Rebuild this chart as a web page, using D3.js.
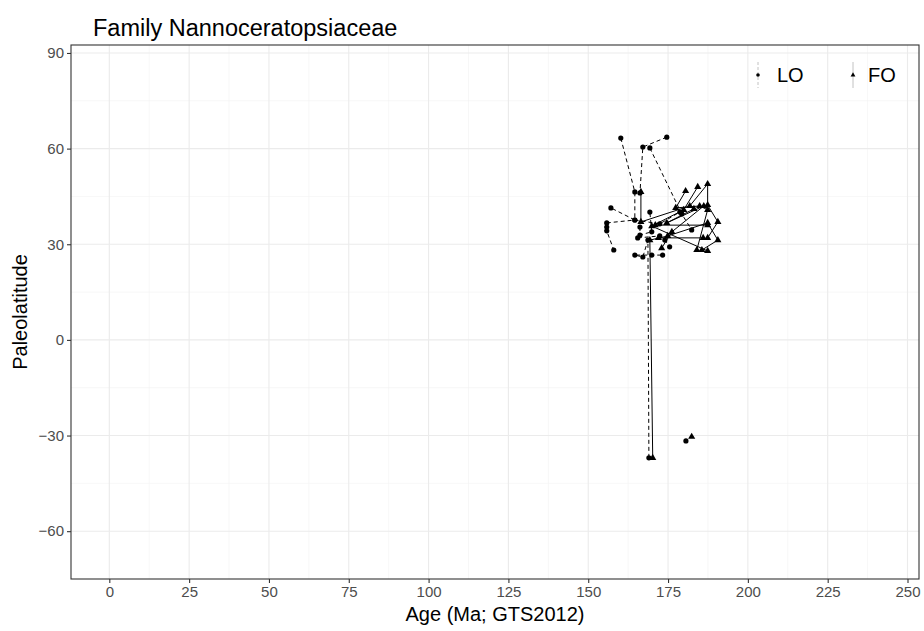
<!DOCTYPE html>
<html>
<head>
<meta charset="utf-8">
<script src="https://cdn.jsdelivr.net/npm/d3@7"></script>
<style>
  body { margin: 0; background: #fff; }
  svg { font-family: "Liberation Sans", Arial, sans-serif; }
</style>
</head>
<body>
<div id="chart"></div>
<script>
// Family Nannoceratopsiaceae - LO / FO paleolatitude vs age

// LO (last occurrence) points, dashed paths per group
const loAge   = [160.2, 164.6, 164.6, 157.1,
                 174.6, 167.1, 166.2,
                 169.3, 179.3, 182.4,
                 155.8, 164.6, 172.4, 178.7,
                 155.8, 155.8, 158.0,
                 169.0, 168.7, 167.1, 164.6, 169.9, 173.3,
                 180.6,
                 166.2, 166.2, 169.9, 169.3,
                 165.5, 172.4, 174.0, 175.5];
const loLat   = [63.3, 46.4, 37.6, 41.4,
                 63.6, 60.5, 46.1,
                 60.2, 39.5, 34.5,
                 36.7, 37.6, 36.4, 40.1,
                 35.4, 34.2, 28.2,
                 -37.0, 31.3, 26.0, 26.6, 26.6, 26.6,
                 -31.7,
                 35.4, 32.9, 33.9, 40.1,
                 32.0, 32.6, 31.3, 29.2];
const loGroup = [1, 1, 1, 1,
                 2, 2, 2,
                 3, 3, 3,
                 4, 4, 4, 4,
                 5, 5, 5,
                 6, 6, 6, 6, 6, 6,
                 7,
                 8, 8, 8, 8,
                 9, 9, 9, 9];

// FO (first occurrence) points, solid paths per group
const foAge   = [166.5, 166.5, 181.8, 187.4, 187.4, 190.6, 187.4,
                 170.2, 169.3, 174.9, 187.4, 190.6, 185.6,
                 180.5, 177.4, 184.9, 187.4, 184.0,
                 184.3, 179.9, 169.9, 187.4,
                 182.4,
                 173.0, 176.2, 186.2, 174.6, 183.1,
                 171.0, 187.4, 172.0, 186.0];
const foLat   = [46.4, 37.0, 42.0, 48.9, 42.3, 37.0, 32.0,
                 -37.0, 31.3, 32.6, 36.7, 31.3, 28.2,
                 46.7, 41.4, 42.0, 40.8, 28.2,
                 48.0, 40.8, 35.7, 27.9,
                 -30.4,
                 28.8, 33.9, 42.0, 36.7, 41.1,
                 36.0, 36.0, 32.0, 32.0];
const foGroup = [1, 1, 1, 1, 1, 1, 1,
                 2, 2, 2, 2, 2, 2,
                 3, 3, 3, 3, 3,
                 4, 4, 4, 4,
                 5,
                 6, 6, 6, 6, 6,
                 7, 7, 8, 8];

const xTicks = [0, 25, 50, 75, 100, 125, 150, 175, 200, 225, 250];
const yTicks = [-60, -30, 0, 30, 60, 90];
const xMinor = [12.5, 37.5, 62.5, 87.5, 112.5, 137.5, 162.5, 187.5, 212.5, 237.5];
const yMinor = [-45, -15, 15, 45, 75];

const width = 924, height = 631;
const margin = { top: 45, right: 5, bottom: 52, left: 71 };
const pw = width - margin.left - margin.right;
const ph = height - margin.top - margin.bottom;

const svg = d3.select('#chart').append('svg')
    .attr('width', width)
    .attr('height', height);

const x = d3.scaleLinear().domain([-12.0, 253.6]).range([0, pw]);
const y = d3.scaleLinear().domain([-75.0, 92.5]).range([ph, 0]);

const g = svg.append('g')
    .attr('transform', `translate(${margin.left},${margin.top})`);

// grid (theme_bw)
g.selectAll('.xminor').data(xMinor).enter().append('line')
    .attr('x1', d => x(d)).attr('x2', d => x(d))
    .attr('y1', 0).attr('y2', ph)
    .attr('stroke', '#F2F2F2').attr('stroke-width', 0.6);
g.selectAll('.yminor').data(yMinor).enter().append('line')
    .attr('x1', 0).attr('x2', pw)
    .attr('y1', d => y(d)).attr('y2', d => y(d))
    .attr('stroke', '#F2F2F2').attr('stroke-width', 0.6);
g.selectAll('.xmajor').data(xTicks).enter().append('line')
    .attr('x1', d => x(d)).attr('x2', d => x(d))
    .attr('y1', 0).attr('y2', ph)
    .attr('stroke', '#EBEBEB').attr('stroke-width', 1.1);
g.selectAll('.ymajor').data(yTicks).enter().append('line')
    .attr('x1', 0).attr('x2', pw)
    .attr('y1', d => y(d)).attr('y2', d => y(d))
    .attr('stroke', '#EBEBEB').attr('stroke-width', 1.1);

// build grouped series
function groups(ages, lats, grp) {
    const m = d3.group(ages.map((a, i) => ({ age: a, lat: lats[i], g: grp[i] })), d => d.g);
    return Array.from(m.values());
}
const loSeries = groups(loAge, loLat, loGroup);
const foSeries = groups(foAge, foLat, foGroup);

const line = d3.line().x(d => x(d.age)).y(d => y(d.lat));

g.selectAll('.lo-path').data(loSeries).enter().append('path')
    .attr('d', line)
    .attr('fill', 'none')
    .attr('stroke', '#000')
    .attr('stroke-width', 1)
    .attr('stroke-dasharray', '4,3');

g.selectAll('.fo-path').data(foSeries).enter().append('path')
    .attr('d', line)
    .attr('fill', 'none')
    .attr('stroke', '#000')
    .attr('stroke-width', 1);

const loPts = loSeries.flat();
const foPts = foSeries.flat();

g.selectAll('.lo-pt').data(loPts).enter().append('circle')
    .attr('cx', d => x(d.age))
    .attr('cy', d => y(d.lat))
    .attr('r', 2.6)
    .attr('fill', '#000');

const tri = d3.symbol().type(d3.symbolTriangle).size(22);
g.selectAll('.fo-pt').data(foPts).enter().append('path')
    .attr('d', tri)
    .attr('transform', d => `translate(${x(d.age)},${y(d.lat)})`)
    .attr('fill', '#000');

// panel border
g.append('rect')
    .attr('width', pw).attr('height', ph)
    .attr('fill', 'none')
    .attr('stroke', '#333333')
    .attr('stroke-width', 1.1);

// axes
const xAxis = g.append('g')
    .attr('transform', `translate(0,${ph})`)
    .call(d3.axisBottom(x).tickValues(xTicks).tickSize(4).tickPadding(3));
const yAxis = g.append('g')
    .call(d3.axisLeft(y).tickValues(yTicks).tickSize(4).tickPadding(3)
        .tickFormat(d => d < 0 ? '\u2212' + Math.abs(d) : d));
[xAxis, yAxis].forEach(a => {
    a.select('.domain').remove();
    a.selectAll('.tick line').attr('stroke', '#333333').attr('stroke-width', 1.1);
    a.selectAll('.tick text')
        .attr('fill', '#4D4D4D')
        .style('font-size', '15px')
        .style('font-family', '"Liberation Sans", Arial, sans-serif');
});

// titles
svg.append('text')
    .attr('x', 93).attr('y', 36)
    .style('font-size', '23.5px')
    .attr('fill', '#000')
    .text('Family Nannoceratopsiaceae');

svg.append('text')
    .attr('x', margin.left + pw / 2).attr('y', 621)
    .attr('text-anchor', 'middle')
    .style('font-size', '20px')
    .attr('fill', '#000')
    .text('Age (Ma; GTS2012)');

svg.append('text')
    .attr('transform', `translate(27,${margin.top + ph / 2}) rotate(-90)`)
    .attr('text-anchor', 'middle')
    .style('font-size', '20px')
    .attr('fill', '#000')
    .text('Paleolatitude');

// legend
const legendData = [
    { label: 'LO', dash: '3,2', shape: 'circle', cx: 758, tx: 777 },
    { label: 'FO', dash: null, shape: 'triangle', cx: 853, tx: 868 }
];
const legend = svg.append('g').attr('class', 'legend');
const items = legend.selectAll('.legend-item').data(legendData).enter().append('g');
items.append('line')
    .attr('x1', d => d.cx).attr('x2', d => d.cx)
    .attr('y1', 62).attr('y2', 88)
    .attr('stroke', '#B3B3B3')
    .attr('stroke-width', 0.8)
    .attr('stroke-dasharray', d => d.dash);
items.each(function(d) {
    const s = d3.select(this);
    if (d.shape === 'circle') {
        s.append('circle').attr('cx', d.cx).attr('cy', 75).attr('r', 1.8).attr('fill', '#000');
    } else {
        s.append('path').attr('d', d3.symbol().type(d3.symbolTriangle).size(10))
            .attr('transform', `translate(${d.cx},75)`).attr('fill', '#000');
    }
});
items.append('text')
    .attr('x', d => d.tx).attr('y', 82)
    .style('font-size', '20px')
    .attr('fill', '#000')
    .text(d => d.label);
</script>
</body>
</html>
